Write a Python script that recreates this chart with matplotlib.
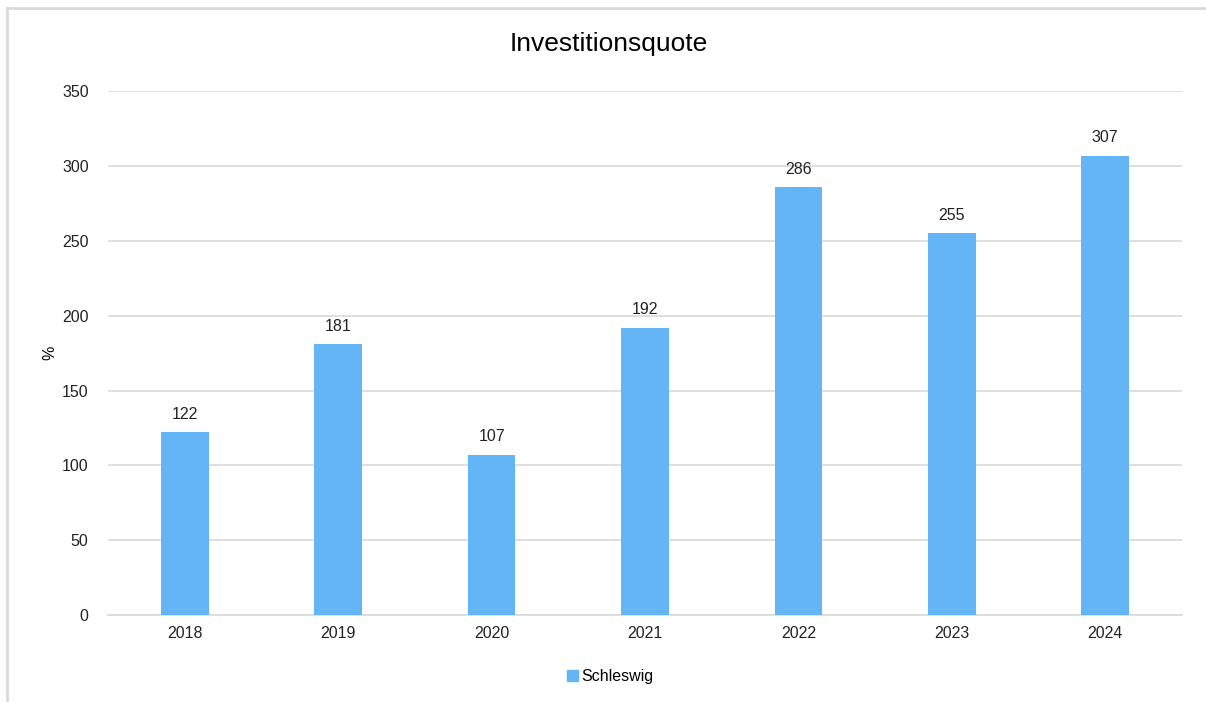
import matplotlib.pyplot as plt
from matplotlib.patches import Rectangle
from matplotlib.lines import Line2D

plt.rcParams['font.family'] = ['Liberation Sans', 'DejaVu Sans']

years = ['2018', '2019', '2020', '2021', '2022', '2023', '2024']
values = [122, 181, 107, 192, 286, 255, 307]
series_name = 'Schleswig'
bar_color = '#63B5F5'

fig = plt.figure(figsize=(12.06, 7.02), dpi=100)
ax = fig.add_axes([0.0896, 0.124, 0.8904, 0.746])

x = range(len(years))
bars = ax.bar(x, values, width=0.31, color=bar_color, label=series_name, zorder=3)
for xi, v in zip(x, values):
    ax.text(xi, v + 7, str(v), ha='center', va='bottom', fontsize=11.5, color='#222222')

ax.set_xlim(-0.5, len(years) - 0.5)
ax.set_ylim(0, 350)
ax.set_yticks(range(0, 351, 50))
ax.set_xticks(list(x))
ax.set_xticklabels(years)
ax.tick_params(axis='both', length=0, labelsize=11.5, colors='#222222')
ax.tick_params(axis='y', pad=14)
ax.tick_params(axis='x', pad=8)
ax.grid(axis='y', color='#D9D9D9', linewidth=1.2, zorder=0)
for side in ['top', 'right', 'left']:
    ax.spines[side].set_visible(False)
ax.spines['bottom'].set_color('#D9D9D9')
ax.spines['bottom'].set_linewidth(1.2)
ax.set_ylabel('%', fontsize=11.5, labelpad=3)

fig.suptitle('Investitionsquote', fontsize=19, y=0.955, x=0.505)

fig.legend(handles=[Rectangle((0, 0), 1, 1, color=bar_color)], labels=[series_name],
           loc='center', bbox_to_anchor=(0.506, 0.036), frameon=False, fontsize=11.5,
           handlelength=0.7, handleheight=0.7, handletextpad=0.2)

# outer chart border (top and left visible)
fig.add_artist(Line2D([0.006, 1.0], [0.988, 0.988], color='#D9D9D9', linewidth=2, transform=fig.transFigure))
fig.add_artist(Line2D([0.006, 0.006], [0.0, 0.988], color='#D9D9D9', linewidth=2, transform=fig.transFigure))

fig.savefig('out.png', dpi=100)
plt.close(fig)
